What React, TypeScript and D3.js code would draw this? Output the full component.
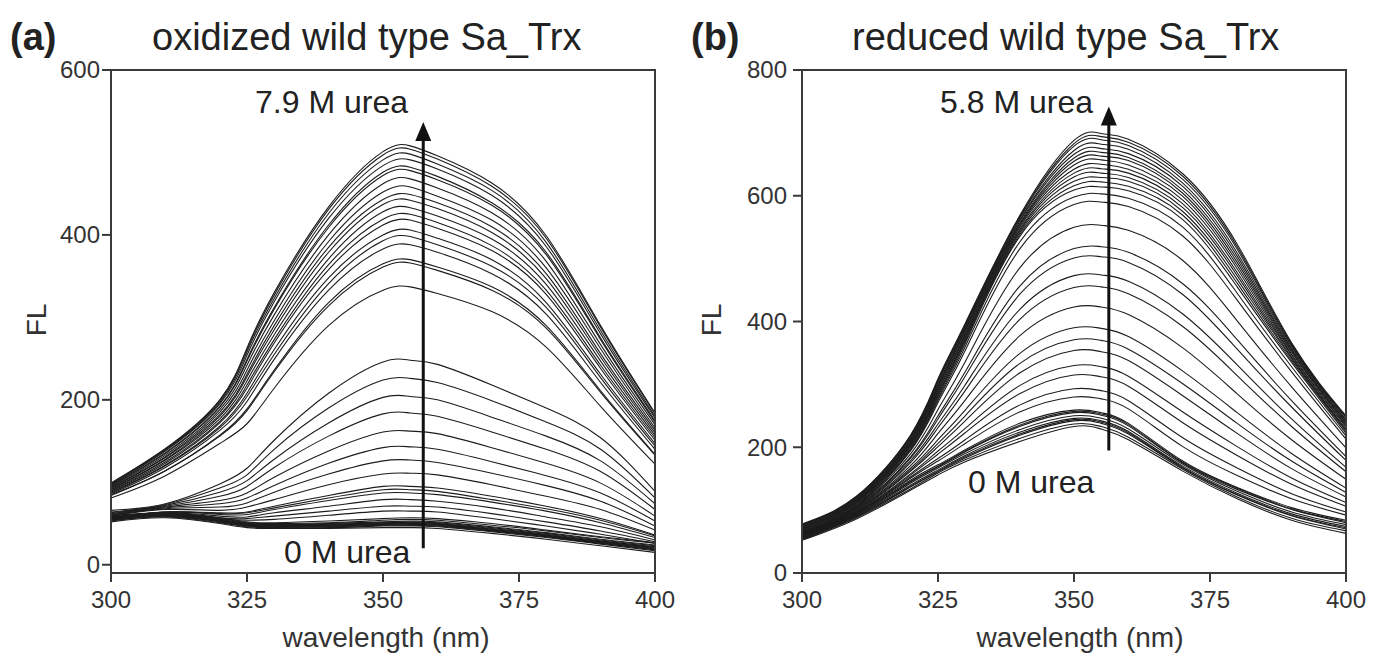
import React from 'react';
import * as d3 from 'd3';

// Wavelengths (nm) at which every spectrum below is sampled
const wavelengths = [300, 310, 320, 325, 330, 340, 350, 355, 360, 370, 380, 390, 400];
const xTicks = [300, 325, 350, 375, 400];
const yTicksOx = [0, 200, 400, 600];
const yTicksRed = [0, 200, 400, 600, 800];

// (a) oxidized – unfolded (high urea) spectra
const oxUnfolded = [
  [99, 141, 200, 263, 330, 434, 501, 508, 496, 463, 399, 290, 184],
  [99, 140, 199, 261, 327, 431, 497, 504, 492, 459, 396, 288, 183],
  [98, 139, 197, 258, 323, 426, 491, 498, 486, 454, 391, 284, 180],
  [97, 138, 195, 254, 319, 420, 484, 491, 480, 448, 386, 280, 178],
  [96, 136, 192, 249, 312, 412, 476, 482, 471, 439, 379, 275, 175],
  [96, 135, 191, 247, 310, 409, 472, 478, 467, 436, 376, 273, 173],
  [95, 133, 188, 242, 303, 400, 462, 468, 457, 427, 368, 267, 170],
  [94, 131, 185, 236, 296, 392, 452, 458, 447, 418, 360, 262, 166],
  [93, 130, 182, 231, 290, 385, 443, 449, 439, 410, 353, 256, 163],
  [92, 128, 180, 228, 285, 379, 437, 442, 432, 403, 347, 252, 160],
  [91, 127, 177, 223, 279, 371, 428, 433, 423, 395, 340, 247, 157],
  [90, 125, 174, 218, 273, 364, 419, 425, 415, 387, 333, 242, 154],
  [89, 123, 172, 214, 269, 358, 412, 418, 408, 381, 328, 238, 151],
  [88, 121, 168, 208, 261, 348, 400, 406, 396, 370, 318, 231, 147],
  [87, 120, 166, 204, 255, 341, 393, 398, 388, 362, 312, 227, 144],
  [86, 118, 163, 198, 249, 333, 383, 388, 379, 353, 304, 221, 140],
  [85, 114, 157, 189, 236, 318, 365, 370, 361, 337, 290, 211, 134],
  [84, 114, 156, 187, 234, 314, 361, 366, 357, 333, 287, 209, 133],
  [81, 108, 147, 171, 214, 290, 333, 337, 329, 307, 264, 192, 122],
];

// (a) oxidized – transition spectra
const oxTransition = [
  [66, 74, 98, 117, 151, 208, 246, 248, 243, 218, 190, 154, 89],
  [64, 73, 93, 109, 140, 190, 224, 226, 221, 199, 173, 140, 81],
  [63, 72, 88, 102, 128, 172, 203, 204, 200, 179, 156, 126, 74],
  [62, 71, 83, 95, 118, 156, 183, 184, 180, 161, 140, 113, 67],
  [61, 70, 78, 87, 106, 138, 161, 162, 159, 142, 123, 99, 59],
  [60, 69, 74, 81, 96, 123, 142, 143, 140, 125, 108, 87, 53],
  [60, 68, 70, 75, 88, 110, 126, 127, 124, 111, 96, 77, 47],
  [59, 67, 66, 70, 79, 97, 110, 111, 109, 97, 83, 67, 42],
  [57, 64, 63, 64, 71, 84, 95, 95, 93, 83, 71, 56, 36],
  [56, 64, 62, 63, 69, 81, 91, 91, 89, 79, 68, 54, 35],
  [56, 64, 61, 61, 67, 78, 87, 87, 85, 76, 65, 51, 33],
  [56, 63, 59, 58, 63, 71, 79, 79, 77, 69, 58, 46, 30],
  [56, 63, 57, 56, 59, 65, 71, 71, 70, 62, 52, 41, 28],
  [56, 63, 56, 54, 55, 60, 65, 65, 64, 56, 47, 37, 26],
];

// (a) oxidized – native (low urea) spectra
const oxNative = [
  [52, 57, 50, 45, 44, 44, 45, 45, 44, 38, 31, 23, 15],
  [54, 58, 51, 46, 45, 45, 47, 47, 46, 40, 33, 25, 17],
  [55, 59, 52, 48, 47, 47, 49, 49, 48, 42, 35, 27, 20],
  [57, 60, 53, 49, 48, 48, 50, 51, 50, 44, 37, 29, 22],
  [58, 61, 55, 50, 49, 50, 52, 53, 52, 46, 39, 31, 24],
  [60, 62, 56, 51, 50, 51, 54, 55, 54, 48, 41, 33, 26],
  [53, 59, 53, 47, 46, 46, 48, 48, 47, 41, 34, 26, 18],
  [56, 60, 54, 49, 48, 49, 51, 51, 50, 43, 36, 28, 21],
  [59, 63, 57, 52, 51, 53, 56, 57, 56, 50, 42, 34, 27],
  [54, 60, 52, 47, 46, 46, 48, 48, 47, 41, 34, 26, 19],
  [56, 61, 54, 48, 47, 47, 49, 50, 49, 43, 36, 28, 21],
  [58, 62, 55, 50, 49, 49, 51, 52, 51, 45, 38, 30, 23],
  [55, 59, 53, 48, 47, 48, 50, 50, 49, 42, 35, 27, 19],
];

// (b) reduced – unfolded (high urea) spectra
const redUnfolded = [
  [78, 122, 220, 309, 397, 568, 688, 699, 690, 635, 523, 366, 250],
  [77, 121, 219, 307, 395, 566, 683, 694, 685, 631, 519, 364, 248],
  [77, 120, 217, 305, 393, 564, 679, 689, 680, 626, 515, 362, 247],
  [76, 119, 216, 303, 391, 561, 672, 682, 674, 620, 509, 360, 244],
  [75, 118, 214, 300, 388, 559, 666, 675, 667, 615, 504, 357, 242],
  [74, 117, 212, 298, 386, 556, 660, 669, 661, 609, 499, 355, 240],
  [73, 116, 211, 296, 384, 554, 655, 663, 656, 604, 494, 353, 238],
  [72, 115, 209, 294, 381, 552, 649, 657, 649, 599, 489, 351, 236],
  [71, 114, 207, 291, 378, 549, 642, 650, 642, 593, 484, 348, 234],
  [70, 113, 205, 289, 376, 546, 636, 643, 636, 587, 478, 346, 232],
  [69, 112, 204, 286, 373, 544, 630, 636, 629, 581, 473, 343, 229],
  [68, 111, 202, 284, 371, 541, 623, 629, 623, 575, 467, 341, 227],
  [67, 110, 200, 281, 368, 538, 616, 622, 615, 569, 461, 338, 225],
  [66, 108, 198, 278, 365, 535, 609, 614, 608, 562, 455, 335, 222],
];

// (b) reduced – transition spectra
const redTransition = [
  [66, 108, 196, 275, 360, 526, 598, 603, 596, 550, 445, 328, 218],
  [65, 107, 195, 271, 354, 515, 586, 590, 583, 536, 434, 320, 213],
  [65, 106, 190, 260, 336, 485, 550, 553, 545, 497, 401, 296, 199],
  [64, 105, 185, 250, 320, 456, 516, 519, 510, 460, 371, 274, 185],
  [64, 104, 183, 245, 313, 443, 501, 503, 494, 443, 356, 264, 179],
  [63, 103, 179, 237, 299, 419, 473, 474, 464, 412, 331, 245, 168],
  [62, 102, 176, 231, 290, 403, 454, 455, 444, 392, 314, 233, 161],
  [62, 101, 171, 222, 275, 377, 423, 423, 411, 358, 285, 212, 149],
  [61, 100, 167, 212, 259, 349, 390, 389, 376, 321, 255, 190, 135],
  [61, 99, 164, 206, 250, 333, 371, 370, 356, 301, 238, 178, 128],
  [60, 98, 162, 201, 242, 318, 354, 352, 338, 282, 222, 166, 121],
  [60, 97, 158, 194, 230, 298, 330, 328, 313, 256, 201, 151, 112],
  [59, 96, 156, 189, 223, 285, 315, 312, 297, 239, 187, 141, 106],
  [59, 96, 153, 182, 212, 267, 293, 290, 274, 215, 167, 126, 97],
  [58, 95, 151, 178, 206, 256, 280, 277, 261, 201, 155, 118, 92],
];

// (b) reduced – native (low urea) spectra
const redNative = [
  [52, 86, 132, 156, 177, 209, 233, 229, 212, 162, 118, 84, 63],
  [53, 88, 134, 159, 180, 214, 237, 233, 216, 165, 121, 87, 67],
  [54, 89, 137, 161, 183, 219, 242, 238, 221, 167, 124, 91, 70],
  [55, 91, 140, 164, 187, 224, 246, 242, 225, 170, 127, 94, 74],
  [56, 92, 143, 167, 190, 228, 250, 246, 229, 173, 130, 97, 77],
  [57, 93, 145, 169, 193, 233, 255, 251, 234, 175, 133, 101, 80],
  [58, 95, 148, 172, 196, 238, 259, 255, 238, 178, 136, 104, 84],
  [54, 90, 138, 162, 185, 221, 244, 240, 223, 168, 125, 92, 72],
  [57, 94, 146, 170, 194, 235, 257, 253, 236, 176, 135, 102, 82],
];

// Arrow annotations: [wavelength, from FL, to FL]
const arrowOx = [357.4, 20, 537];
const arrowRed = [356.4, 195, 742];

const FONT = "'Liberation Sans', Arial, Helvetica, sans-serif";
const AXIS = '#3a3a3a';
const INK = '#1c1c1c';

type PanelProps = {
  x0: number; x1: number; yTop: number; yBottom: number;
  yDomain: [number, number]; yTicks: number[]; spectra: number[][];
  arrow: number[]; letter: string; letterX: number; title: string; titleX: number;
  topLabel: string; topLabelX: number; topLabelY: number;
  bottomLabelX: number; bottomLabelY: number;
  ylabX: number; xlabX: number; yLabelGap: number;
};

function Panel(p: PanelProps) {
  const x = d3.scaleLinear().domain([300, 400]).range([p.x0, p.x1]);
  const y = d3.scaleLinear().domain(p.yDomain).range([p.yBottom, p.yTop]);
  const line = d3
    .line<number>()
    .x((_, i) => x(wavelengths[i]))
    .y((d) => y(d))
    .curve(d3.curveNatural);
  const ax = x(p.arrow[0]);
  const ay0 = y(p.arrow[1]);
  const ay1 = y(p.arrow[2]);
  return (
    <g>
      <text x={p.letterX} y={50} fontFamily={FONT} fontSize={38} fontWeight="bold" fill="#222">{p.letter}</text>
      <text x={p.titleX} y={50} fontFamily={FONT} fontSize={38} fill="#222">{p.title}</text>
      {p.spectra.map((s, i) => (
        <path key={i} d={line(s) || ''} fill="none" stroke={INK} strokeWidth={1.1} />
      ))}
      <rect x={p.x0} y={p.yTop} width={p.x1 - p.x0} height={p.yBottom - p.yTop} fill="none" stroke={AXIS} strokeWidth={2} />
      {p.yTicks.map((t) => (
        <g key={'y' + t}>
          <line x1={p.x0 - 9} x2={p.x0} y1={y(t)} y2={y(t)} stroke={AXIS} strokeWidth={2} />
          <text x={p.x0 - p.yLabelGap} y={y(t)} dy="0.35em" textAnchor="end" fontFamily={FONT} fontSize={24} fill="#333">{t}</text>
        </g>
      ))}
      {xTicks.map((t) => (
        <g key={'x' + t}>
          <line x1={x(t)} x2={x(t)} y1={p.yBottom} y2={p.yBottom + 9} stroke={AXIS} strokeWidth={2} />
          <text x={x(t)} y={608} textAnchor="middle" fontFamily={FONT} fontSize={24} fill="#333">{t}</text>
        </g>
      ))}
      <text x={p.xlabX} y={647} textAnchor="middle" fontFamily={FONT} fontSize={28} fill="#333">wavelength (nm)</text>
      <text transform={`translate(${p.ylabX},320) rotate(-90)`} textAnchor="middle" fontFamily={FONT} fontSize={28} fill="#333">FL</text>
      <line x1={ax} x2={ax} y1={ay0} y2={ay1 + 14} stroke="#111" strokeWidth={3} />
      <path d={`M${ax},${ay1} L${ax - 8},${ay1 + 19} L${ax + 8},${ay1 + 19} Z`} fill="#111" />
      <text x={p.topLabelX} y={p.topLabelY} fontFamily={FONT} fontSize={32} fill="#222">{p.topLabel}</text>
      <text x={p.bottomLabelX} y={p.bottomLabelY} fontFamily={FONT} fontSize={32} fill="#222">0 M urea</text>
    </g>
  );
}

export default function App() {
  return (
    <svg width={1375} height={656} style={{ position: 'absolute', left: 0, top: 0, background: '#fff' }}>
      <rect x={0} y={0} width={1375} height={656} fill="#fff" />
      <Panel
        x0={111} x1={655} yTop={70} yBottom={573} yDomain={[-10, 600]} yTicks={yTicksOx}
        spectra={[...oxNative, ...oxTransition, ...oxUnfolded]} arrow={arrowOx}
        letter="(a)" letterX={10} title="oxidized wild type Sa_Trx" titleX={152}
        topLabel="7.9 M urea" topLabelX={255} topLabelY={113}
        bottomLabelX={284} bottomLabelY={563} ylabX={46} xlabX={386} yLabelGap={11}
      />
      <Panel
        x0={802} x1={1346} yTop={70} yBottom={573} yDomain={[0, 800]} yTicks={yTicksRed}
        spectra={[...redNative, ...redTransition, ...redUnfolded]} arrow={arrowRed}
        letter="(b)" letterX={691} title="reduced wild type Sa_Trx" titleX={852}
        topLabel="5.8 M urea" topLabelX={940} topLabelY={113}
        bottomLabelX={968} bottomLabelY={493} ylabX={721} xlabX={1080} yLabelGap={15}
      />
    </svg>
  );
}
